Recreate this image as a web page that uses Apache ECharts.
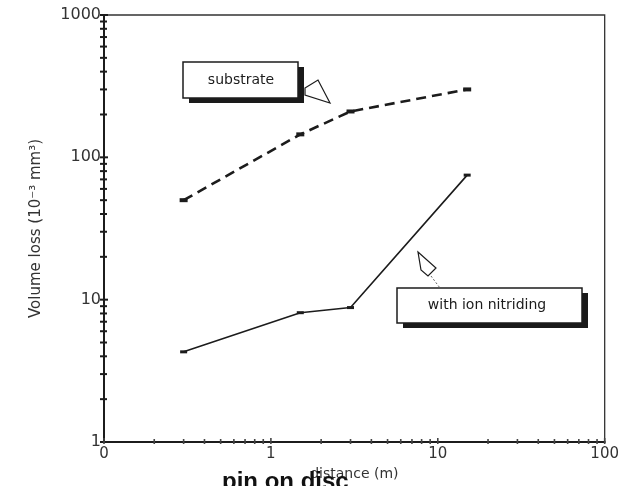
<!DOCTYPE html>
<html>
<head>
<meta charset="utf-8">
<script src="https://cdn.jsdelivr.net/npm/echarts@6/dist/echarts.min.js"></script>
<style>
  html, body { margin: 0; padding: 0; background: #fff; }
  #chart { width: 622px; height: 486px; }
</style>
</head>
<body>
<div id="chart"></div>
<script>
// Sliding distance (m) at each measurement
const distance = [0.3, 1.5, 3, 15];
// Volume loss (10^-3 mm^3)
const substrate = [50, 145, 210, 300];
const ionNitrided = [4.3, 8.1, 8.8, 75];

// Axis decades and the minor tick multipliers within each decade
const xDecades = [0.1, 1, 10];
const yDecades = [1, 10, 100];
const minorSteps = [2, 3, 4, 5, 6, 7, 8, 9];
const xMajor = [0.1, 1, 10, 100];
const yMajor = [1, 10, 100, 1000];

const ink = '#1c1c1c';
const textInk = '#333';
const font = '"DejaVu Sans", Verdana, sans-serif';

const xTicks = [];
xDecades.forEach(d => minorSteps.forEach(m => xTicks.push({ v: +(d * m).toPrecision(3), major: false })));
xMajor.forEach(v => xTicks.push({ v, major: true }));
const yTicks = [];
yDecades.forEach(d => minorSteps.forEach(m => yTicks.push({ v: d * m, major: false })));
yMajor.forEach(v => yTicks.push({ v, major: true }));

const chart = echarts.init(document.getElementById('chart'), null, { renderer: 'canvas' });

function pair(a, b) { return a.map((v, i) => [v, b[i]]); }

chart.setOption({
  animation: false,
  backgroundColor: '#fff',
  textStyle: { fontFamily: font, color: textInk },
  grid: {
    left: 104, right: 16, top: 15, bottom: 44,
    show: true, borderColor: '#333', borderWidth: 1.3, backgroundColor: 'transparent'
  },
  xAxis: {
    type: 'log', logBase: 10, min: 0.1, max: 100,
    name: 'distance (m)', nameLocation: 'middle', nameGap: 22,
    nameTextStyle: { fontSize: 14, color: textInk, fontFamily: font },
    axisLine: { show: true, lineStyle: { color: ink, width: 2 } },
    axisTick: { show: false },
    splitLine: { show: false },
    axisLabel: {
      margin: 5, fontSize: 15, color: textInk, fontFamily: font,
      formatter: v => (v < 1 ? '0' : String(Math.round(v)))
    }
  },
  yAxis: {
    type: 'log', logBase: 10, min: 1, max: 1000,
    name: 'Volume loss (10\u207B\u00B3 mm\u00B3)', nameLocation: 'middle', nameGap: 60,
    nameTextStyle: { fontSize: 15, color: textInk, fontFamily: font },
    axisLine: { show: true, lineStyle: { color: ink, width: 2 } },
    axisTick: { show: false },
    splitLine: { show: false },
    axisLabel: {
      margin: 3, fontSize: 16, color: textInk, fontFamily: font,
      formatter: v => String(Math.round(v))
    }
  },
  series: [
    {
      name: 'substrate',
      type: 'line',
      data: pair(distance, substrate),
      symbol: 'rect', symbolSize: [8, 4],
      itemStyle: { color: ink },
      lineStyle: { color: ink, width: 2.6, type: [10, 6] }
    },
    {
      name: 'with ion nitriding',
      type: 'line',
      data: pair(distance, ionNitrided),
      symbol: 'rect', symbolSize: [7, 3],
      itemStyle: { color: ink },
      lineStyle: { color: ink, width: 1.6 }
    },
    {
      // tick marks on the left axis (crossing the axis line)
      type: 'custom',
      silent: true, clip: false,
      data: yTicks.map(t => [0.1, t.v, t.major ? 1 : 0]),
      renderItem: (params, api) => {
        const p = api.coord([api.value(0), api.value(1)]);
        const big = api.value(2) === 1;
        return {
          type: 'line',
          shape: { x1: p[0] - 4, y1: p[1], x2: p[0] + (big ? 4 : 3), y2: p[1] },
          style: { stroke: ink, lineWidth: 2 }
        };
      }
    },
    {
      // tick marks on the bottom axis
      type: 'custom',
      silent: true, clip: false,
      data: xTicks.map(t => [t.v, 1, t.major ? 1 : 0]),
      renderItem: (params, api) => {
        const p = api.coord([api.value(0), api.value(1)]);
        const big = api.value(2) === 1;
        return {
          type: 'line',
          shape: { x1: p[0], y1: p[1] - (big ? 4 : 3), x2: p[0], y2: p[1] + 2 },
          style: { stroke: '#444', lineWidth: 1.6 }
        };
      }
    }
  ],
  graphic: [
    // "substrate" callout box with drop shadow
    { type: 'rect', shape: { x: 189, y: 67, width: 115, height: 36 }, style: { fill: '#1a1a1a' }, z: 10 },
    { type: 'rect', shape: { x: 183, y: 62, width: 115, height: 36 }, style: { fill: '#fff', stroke: ink, lineWidth: 1.5 }, z: 11 },
    { type: 'text', x: 241, y: 80, style: { text: 'substrate', font: '14px ' + font, fill: ink, align: 'center', verticalAlign: 'middle' }, z: 12 },
    { type: 'polygon', shape: { points: [[305, 88], [318, 80], [330, 103], [305, 95]] }, style: { fill: '#fff', stroke: ink, lineWidth: 1.2 }, z: 9 },

    // "with ion nitriding" callout box with drop shadow
    { type: 'rect', shape: { x: 403, y: 293, width: 185, height: 35 }, style: { fill: '#1a1a1a' }, z: 10 },
    { type: 'rect', shape: { x: 397, y: 288, width: 185, height: 35 }, style: { fill: '#fff', stroke: ink, lineWidth: 1.5 }, z: 11 },
    { type: 'text', x: 487, y: 305, style: { text: 'with ion nitriding', font: '14px ' + font, fill: ink, align: 'center', verticalAlign: 'middle' }, z: 12 },
    { type: 'polygon', shape: { points: [[418, 252], [436, 268], [428, 276], [421, 270]] }, style: { fill: '#fff', stroke: ink, lineWidth: 1.2 }, z: 12 },
    { type: 'line', shape: { x1: 431, y1: 276, x2: 440, y2: 288 }, style: { stroke: '#666', lineWidth: 1, lineDash: [2, 2] }, z: 12 },

    // caption line running off the bottom edge
    { type: 'text', x: 222, y: 494, style: { text: 'pin on disc', font: 'bold 24px "Liberation Sans", Arial, sans-serif', fill: '#111', align: 'left', verticalAlign: 'bottom' }, z: 5 }
  ]
});
</script>
</body>
</html>
